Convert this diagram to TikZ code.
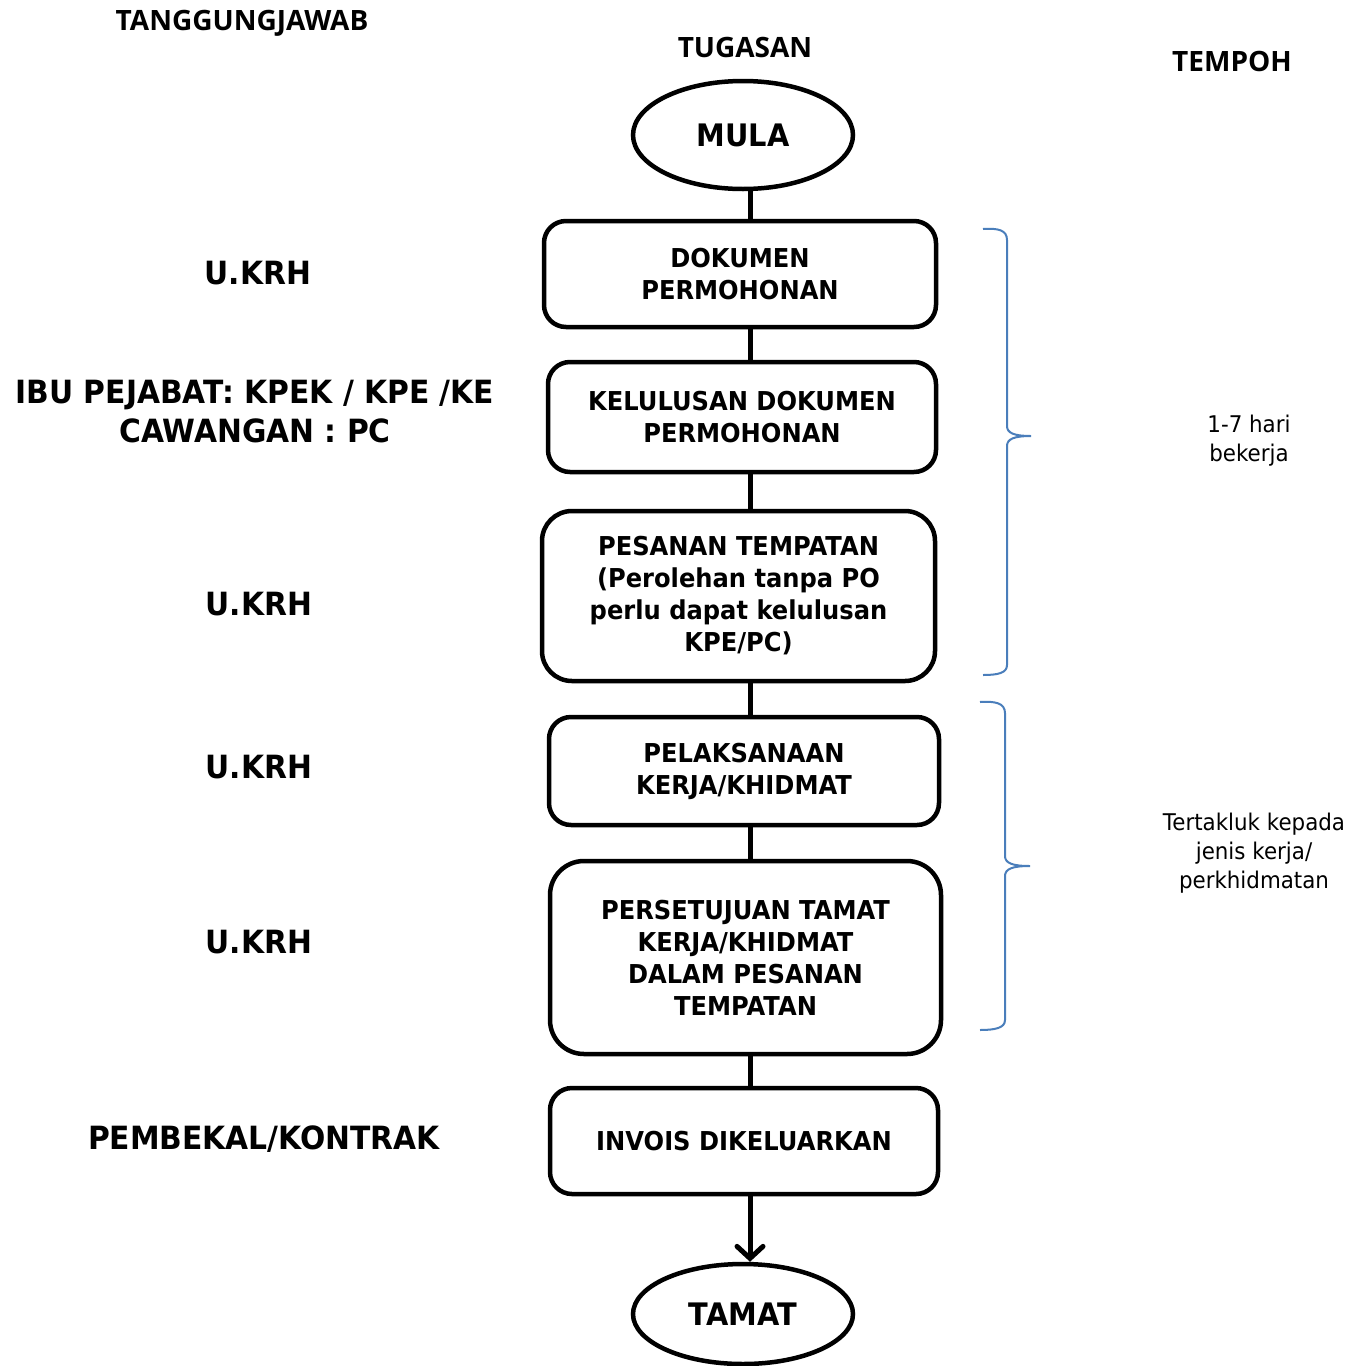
\documentclass[tikz,border=0pt]{standalone}
\usepackage{fontspec}
\usetikzlibrary{shapes.geometric,arrows.meta}
\newfontfamily\bodyfont{DejaVu Sans}[FakeStretch=0.93]
\newfontfamily\headfont{Open Sans}
\definecolor{bracecol}{HTML}{4A7EBB}

\begin{document}
\begin{tikzpicture}[x=1pt,y=-1pt,
  stepbox/.style={draw, line width=4.5pt, rounded corners=22pt, align=center,
    inner sep=0pt, font=\bodyfont\fontsize{26}{32}\selectfont\bfseries},
  term/.style={draw, ellipse, line width=4.5pt, inner sep=0pt,
    minimum width=220pt, minimum height=108pt,
    font=\bodyfont\fontsize{31}{37}\selectfont\bfseries},
  role/.style={align=center, font=\bodyfont\fontsize{32}{39}\selectfont\bfseries},
  head/.style={anchor=base, font=\headfont\fontsize{28}{32}\selectfont\bfseries},
  note/.style={align=center, font=\bodyfont\fontsize{23}{29}\selectfont},
  flow/.style={line width=5pt},
  brace/.style={draw=bracecol, line width=2pt}]
\useasboundingbox (0,0) rectangle (1363,1366);

% column headings
\node[head] (hresp) at (242,30) {TANGGUNGJAWAB};
\node[head] (htask) at (745,57) {TUGASAN};
\node[head] (htime) at (1232,71) {TEMPOH};

% flow steps
\node[term] (mula) at (743,135) {MULA};
\node[stepbox, minimum width=392pt, minimum height=106pt] (b1) at (740,274) {DOKUMEN\\PERMOHONAN};
\node[stepbox, minimum width=388pt, minimum height=110pt] (b2) at (742,417) {KELULUSAN DOKUMEN\\PERMOHONAN};
\node[stepbox, minimum width=393pt, minimum height=170pt, rounded corners=30pt] (b3) at (738.5,596) {PESANAN TEMPATAN\\(Perolehan tanpa PO\\perlu dapat kelulusan\\KPE/PC)};
\node[stepbox, minimum width=390pt, minimum height=108pt] (b4) at (744,771) {PELAKSANAAN\\KERJA/KHIDMAT};
\node[stepbox, minimum width=391pt, minimum height=193pt, rounded corners=34pt] (b5) at (745.5,957.5) {PERSETUJUAN TAMAT\\KERJA/KHIDMAT\\DALAM PESANAN\\TEMPATAN};
\node[stepbox, minimum width=388pt, minimum height=106pt] (b6) at (744,1141) {INVOIS DIKELUARKAN};
\node[term, minimum height=100pt] (tamat) at (743,1314) {TAMAT};

% vertical spine of the flow
\coordinate (sp) at (750,0);
\draw[flow] (mula.south -| sp) -- (b1.north -| sp);
\draw[flow] (b1.south -| sp) -- (b2.north -| sp);
\draw[flow] (b2.south -| sp) -- (b3.north -| sp);
\draw[flow] (b3.south -| sp) -- (b4.north -| sp);
\draw[flow] (b4.south -| sp) -- (b5.north -| sp);
\draw[flow] (b5.south -| sp) -- (b6.north -| sp);
\draw[flow, -{Straight Barb[length=12pt,width=26pt,line cap=round]}] (b6.south -| sp) -- (tamat.north -| sp);

% responsibilities
\node[role] (r1) at (258,273) {U.KRH};
\node[role] (r2) at (255,412) {IBU PEJABAT: KPEK / KPE /KE\\CAWANGAN : PC};
\node[role] (r3) at (259,604) {U.KRH};
\node[role] (r4) at (259,767) {U.KRH};
\node[role] (r5) at (259,942) {U.KRH};
\node[role] (r6) at (264,1139) {PEMBEKAL/KONTRAK};

% duration braces
\draw[brace] (983,229) .. controls (998,228) and (1007,230) .. (1007,240)
  -- (1007,426) .. controls (1007,433) and (1014,436) .. (1031,436)
  .. controls (1014,436) and (1007,439) .. (1007,446)
  -- (1007,665) .. controls (1007,673) and (998,675) .. (983,675);
\draw[brace] (980,702) .. controls (995,701) and (1005,703) .. (1005,713)
  -- (1005,856) .. controls (1005,863) and (1012,866) .. (1030,866)
  .. controls (1012,866) and (1005,869) .. (1005,876)
  -- (1005,1020) .. controls (1005,1028) and (995,1030) .. (980,1030);

% durations
\node[note] (t1) at (1249,441) {1-7 hari\\bekerja};
\node[note] (t2) at (1254,853) {Tertakluk kepada\\jenis kerja/\\perkhidmatan};
\end{tikzpicture}
\end{document}
